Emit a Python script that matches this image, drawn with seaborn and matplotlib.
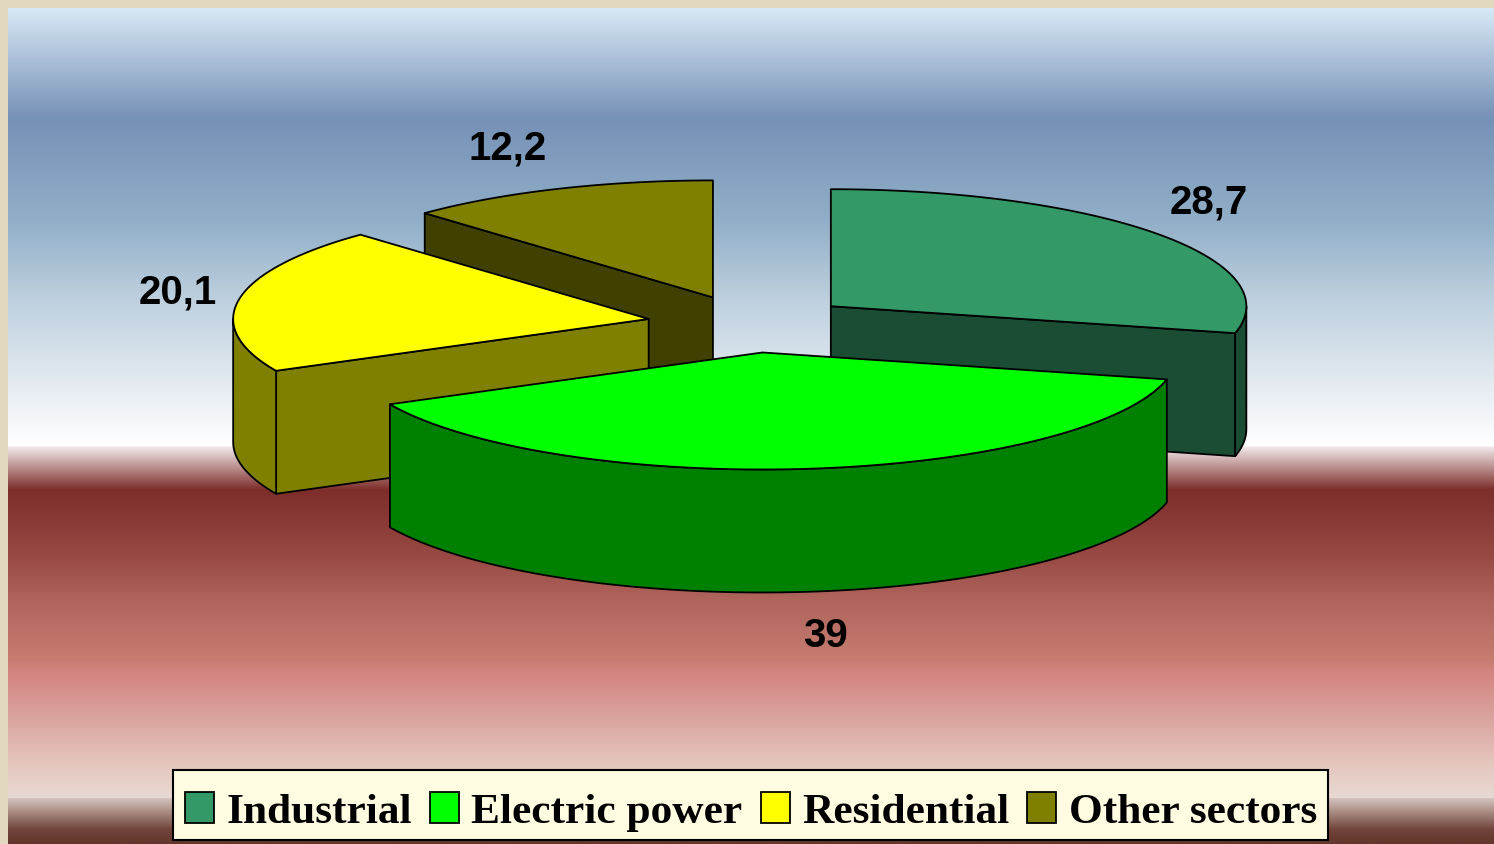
import numpy as np
import matplotlib
matplotlib.use("Agg")
import matplotlib.pyplot as plt
from matplotlib.patches import Patch, Rectangle
import seaborn as sns

categories = ["Industrial", "Electric power", "Residential", "Other sectors"]
values = [28.7, 39, 20.1, 12.2]

sns.set_theme(style="white")
colors = sns.color_palette(["#339966", "#00ff00", "#ffff00", "#808000"])

# pie geometry, in pixels of the picture
cx, cy = 751, 324
rx, ry = 415.5, 117
depth = 123
explode = [0.245, 0.245, 0.25, 0.245]
# label centres, same order as categories
label_pos = [(1209, 202), (825, 636), (178, 293), (508, 148)]

fig = plt.figure(figsize=(14.94, 8.44), dpi=100, facecolor="#e2d7bf")
ax = fig.add_axes([0, 0, 1, 1])

# background gradient
stops = [8, 118, 220, 300, 400, 446, 447, 490, 560, 600, 660, 677, 720, 760, 798, 799, 830, 844]
stop_colors = np.array([
    (216, 232, 245), (118, 145, 182), (145, 175, 200), (190, 208, 222), (235, 240, 245),
    (255, 255, 255), (242, 232, 234), (125, 45, 42), (155, 75, 70), (175, 100, 92),
    (198, 125, 112), (212, 135, 132), (218, 165, 158), (228, 195, 188), (232, 218, 210),
    (212, 194, 188), (112, 68, 58), (100, 55, 45),
]) / 255
ys = np.arange(8, 845)
grad = np.stack([np.interp(ys, stops, stop_colors[:, i]) for i in range(3)], axis=1)
ax.imshow(grad[:, None, :], extent=(8, 1494, 844, 8), aspect="auto", zorder=0)


def point(x0, y0, theta, dy=0):
    return x0 + rx * np.sin(theta), y0 - ry * np.cos(theta) + dy


def draw_slice(x0, y0, a, b, color):
    dark = tuple(c * 0.5 for c in color)
    kw = dict(edgecolor="black", linewidth=1.3, joinstyle="round")

    # straight walls, only those that face the viewer
    for theta, visible in ((a, np.sin(a) < -1e-6), (b, np.sin(b) > 1e-6)):
        if visible:
            ex, ey = point(x0, y0, theta)
            ax.fill([x0, ex, ex, x0], [y0, ey, ey + depth, y0 + depth], facecolor=dark, **kw)

    # outer rim, front half of the circle only
    lo, hi = max(a, np.pi / 2), min(b, 3 * np.pi / 2)
    if lo < hi:
        t = np.linspace(lo, hi, 200)
        rim_x, rim_y = point(x0, y0, t)
        ax.fill(np.r_[rim_x, rim_x[::-1]], np.r_[rim_y, rim_y[::-1] + depth], facecolor=dark, **kw)

    # top face
    t = np.linspace(a, b, 200)
    top_x, top_y = point(x0, y0, t)
    ax.fill(np.r_[x0, top_x], np.r_[y0, top_y], facecolor=color, **kw)


edges = np.r_[0, np.cumsum(values)] / sum(values) * 2 * np.pi
slices = []
for i in range(len(values)):
    mid = (edges[i] + edges[i + 1]) / 2
    x0, y0 = point(cx, cy, mid)
    x0, y0 = cx + (x0 - cx) * explode[i], cy + (y0 - cy) * explode[i]
    slices.append((x0, y0, edges[i], edges[i + 1], colors[i]))

# back slices first so the front ones overlap them
for i in [3, 0, 2, 1]:
    draw_slice(*slices[i])

for value, (lx, ly) in zip(values, label_pos):
    ax.text(lx, ly, f"{value:g}".replace(".", ","), ha="center", va="center",
            fontsize=29, fontweight="bold", family="Liberation Sans", color="black")

# legend box is separate because the entries sit low in it
ax.add_patch(Rectangle((173, 770), 1155, 70, facecolor="#fffce2", edgecolor="black",
                       linewidth=1.5, zorder=4))
handles = [Patch(facecolor=c, edgecolor="black", linewidth=1.3) for c in colors]
leg = ax.legend(handles, categories, ncol=4, loc="center", bbox_to_anchor=(751, 812),
                bbox_transform=ax.transData, frameon=False, borderpad=0, handlelength=0.67,
                handleheight=0.72, handletextpad=0.28, columnspacing=0.42,
                prop=dict(family="Liberation Serif", weight="bold", size=31.2))
leg.set_zorder(5)
for text in leg.get_texts():
    text.set_color("black")

ax.set_xlim(0, 1494)
ax.set_ylim(844, 0)
ax.axis("off")

fig.savefig("out.png", dpi=100, facecolor=fig.get_facecolor())
